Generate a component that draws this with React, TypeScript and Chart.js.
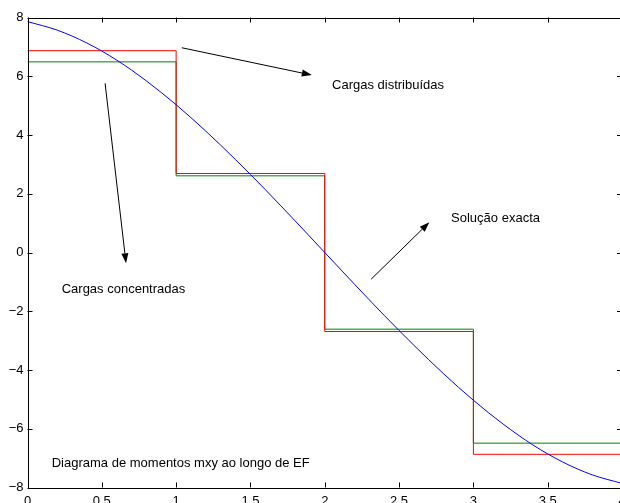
import React, { useEffect, useRef } from "react";
import { Chart, registerables } from "chart.js";

Chart.register(...registerables);

const stepX = [0, 1, 2, 3, 4];
const distributedLoads = [6.87, 2.69, -2.69, -6.87, -6.87];
const concentratedLoads = [6.49, 2.61, -2.61, -6.49, -6.49];

const exactX = [0, 0.2, 0.4, 0.6, 0.8, 1.0, 1.2, 1.4, 1.6, 1.8, 2.0, 2.2, 2.4, 2.6, 2.8, 3.0, 3.2, 3.4, 3.6, 3.8, 4.0];
const exactY = [7.86, 7.57, 7.13, 6.55, 5.84, 5.03, 4.13, 3.16, 2.14, 1.08, 0, -1.08, -2.14, -3.16, -4.13, -5.03, -5.84, -6.55, -7.13, -7.57, -7.86];

const xTickLabels = ["0", "0.5", "1", "1.5", "2", "2.5", "3", "3.5", "4"];
const yTickLabels = ["\u22128", "\u22126", "\u22124", "\u22122", "0", "2", "4", "6", "8"];

const noteTexts = ["Cargas distribuídas", "Solução exacta", "Cargas concentradas", "Diagrama de momentos mxy ao longo de EF"];
const noteX = [2.049, 2.85, 0.23, 0.163];
const noteY = [5.7, 1.17, -1.24, -7.17];

const arrowFromX = [1.038, 2.312, 0.522];
const arrowFromY = [6.97, -0.91, 5.76];
const arrowToX = [1.913, 2.704, 0.663];
const arrowToY = [6.04, 1.03, -0.37];

const FONT = '"Liberation Sans", Arial, Helvetica, sans-serif';

const framePlugin = {
  id: "frame",
  afterDatasetsDraw(chart: any) {
    const { ctx, chartArea, scales } = chart;
    const xs = scales.x;
    const ys = scales.y;
    const L = chartArea.left, R = chartArea.right, T = chartArea.top, B = chartArea.bottom;
    ctx.save();
    ctx.strokeStyle = "#000";
    ctx.lineWidth = 1;
    // frame
    ctx.beginPath();
    ctx.rect(Math.round(L) + 0.5, Math.round(T) + 0.5, Math.round(R - L), Math.round(B - T));
    ctx.stroke();
    // ticks
    const tl = 5;
    ctx.beginPath();
    for (let i = 0; i < xTickLabels.length; i++) {
      const px = Math.round(xs.getPixelForValue(i * 0.5)) + 0.5;
      ctx.moveTo(px, B);
      ctx.lineTo(px, B - tl);
      ctx.moveTo(px, T);
      ctx.lineTo(px, T + tl);
    }
    for (let i = 0; i < yTickLabels.length; i++) {
      const py = Math.round(ys.getPixelForValue(-8 + i * 2)) + 0.5;
      ctx.moveTo(L, py);
      ctx.lineTo(L + tl, py);
      ctx.moveTo(R, py);
      ctx.lineTo(R - tl, py);
    }
    ctx.stroke();

    // arrows
    for (let i = 0; i < arrowFromX.length; i++) {
      const x1 = xs.getPixelForValue(arrowFromX[i]);
      const y1 = ys.getPixelForValue(arrowFromY[i]);
      const x2 = xs.getPixelForValue(arrowToX[i]);
      const y2 = ys.getPixelForValue(arrowToY[i]);
      const ang = Math.atan2(y2 - y1, x2 - x1);
      const hl = 10, hw = 3.5;
      const bx = x2 - hl * Math.cos(ang);
      const by = y2 - hl * Math.sin(ang);
      ctx.beginPath();
      ctx.moveTo(x1, y1);
      ctx.lineTo(bx, by);
      ctx.stroke();
      ctx.beginPath();
      ctx.moveTo(x2, y2);
      ctx.lineTo(bx + hw * Math.sin(ang), by - hw * Math.cos(ang));
      ctx.lineTo(bx - hw * Math.sin(ang), by + hw * Math.cos(ang));
      ctx.closePath();
      ctx.fillStyle = "#000";
      ctx.fill();
    }

    // texts
    ctx.fillStyle = "#000";
    ctx.font = `13px ${FONT}`;
    ctx.textAlign = "left";
    ctx.textBaseline = "middle";
    for (let i = 0; i < noteTexts.length; i++) {
      ctx.fillText(noteTexts[i], xs.getPixelForValue(noteX[i]), ys.getPixelForValue(noteY[i]));
    }
    ctx.restore();
  },
};

export default function App() {
  const ref = useRef<HTMLCanvasElement | null>(null);

  useEffect(() => {
    if (!ref.current) return;
    const chart = new Chart(ref.current, {
      type: "line",
      data: {
        datasets: [
          {
            label: "Solução exacta",
            data: exactX.map((x, i) => ({ x, y: exactY[i] })),
            borderColor: "#0000ff",
            borderWidth: 1,
            pointRadius: 0,
            fill: false,
            cubicInterpolationMode: "monotone",
          },
          {
            label: "Cargas distribuídas",
            data: stepX.map((x, i) => ({ x, y: distributedLoads[i] })),
            borderColor: "#ff0000",
            borderWidth: 1,
            pointRadius: 0,
            fill: false,
            stepped: "before",
          },
          {
            label: "Cargas concentradas",
            data: stepX.map((x, i) => ({ x, y: concentratedLoads[i] })),
            borderColor: "#008000",
            borderWidth: 1,
            pointRadius: 0,
            fill: false,
            stepped: "before",
          },
        ],
      },
      options: {
        animation: false,
        responsive: false,
        devicePixelRatio: 1,
        layout: { padding: { top: 17.5, right: 18, left: 0, bottom: 0 } },
        plugins: { legend: { display: false }, tooltip: { enabled: false } },
        scales: {
          x: {
            type: "linear",
            min: 0,
            max: 4,
            grid: { display: false, drawTicks: false },
            border: { display: false },
            ticks: {
              stepSize: 0.5,
              padding: 6,
              color: "#000",
              font: { family: FONT, size: 13 },
              maxRotation: 0,
              autoSkip: false,
              callback: (_v: any, i: number) => xTickLabels[i],
            },
            afterFit: (s: any) => {
              s.height = 15.5;
            },
          },
          y: {
            type: "linear",
            min: -8,
            max: 8,
            grid: { display: false, drawTicks: false },
            border: { display: false },
            ticks: {
              stepSize: 2,
              padding: 4,
              color: "#000",
              font: { family: FONT, size: 13 },
              autoSkip: false,
              callback: (_v: any, i: number) => yTickLabels[i],
            },
            afterFit: (s: any) => {
              s.width = 27.5;
            },
          },
        },
      },
      plugins: [framePlugin],
    });
    return () => chart.destroy();
  }, []);

  return (
    <div style={{ position: "fixed", left: 0, top: 0, width: 620, height: 503, overflow: "hidden", background: "#fff" }}>
      <canvas ref={ref} width={640} height={503} style={{ display: "block" }} />
    </div>
  );
}
